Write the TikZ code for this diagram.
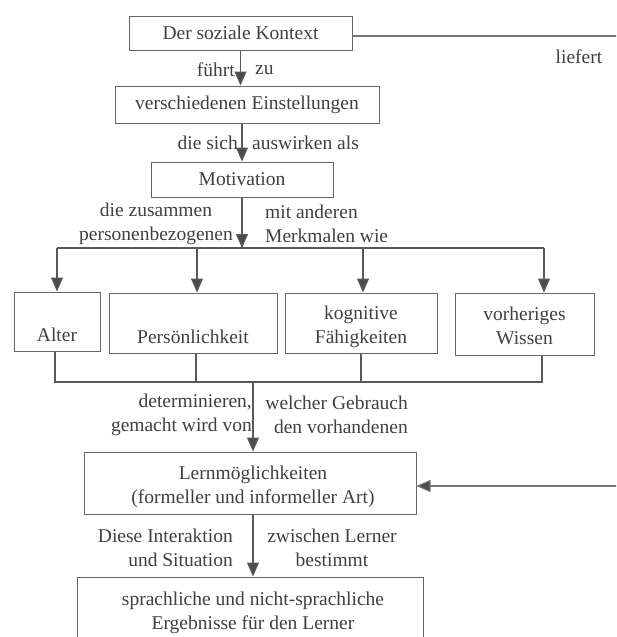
\documentclass[tikz,border=0pt]{standalone}
\usepackage{fontspec}
\setmainfont{Liberation Serif}
\usetikzlibrary{arrows.meta,calc}
\begin{document}
\begin{tikzpicture}[x=1pt,y=-1pt,
  box/.style={draw=black!60, line width=1pt, inner sep=0pt, align=center, text=black!75},
  lbl/.style={inner sep=0pt, text=black!75, font=\fontsize{19.5}{24}\selectfont},
  ln/.style={draw=black!65, line width=1.1pt},
  arr/.style={ln, arrows={-{Triangle[length=14pt,width=12pt,fill=black!70]}}},
  every node/.append style={font=\fontsize{19.5}{24}\selectfont}]
\useasboundingbox (0,0) rectangle (616,637);
\clip (0,0) rectangle (616,637);
\fill[white] (0,0) rectangle (616,637);

% boxes
\node[box, minimum width=223, minimum height=34] (kontext) at (240.5,33) {Der soziale Kontext};
\node[box, minimum width=264, minimum height=37] (einst) at (247,104.5) {verschiedenen Einstellungen};
\node[box, minimum width=182, minimum height=35] (motiv) at (242,179.5) {Motivation};
\node[box, minimum width=86, minimum height=59] (alter) at (57,321.5) {\strut\\Alter};
\node[box, minimum width=168, minimum height=60] (pers) at (193,323) {\strut\\Persönlichkeit};
\node[box, minimum width=152, minimum height=60,
  label={[lbl,align=center,yshift=-4pt]center:kognitive\\Fähigkeiten}] (kogn) at (361,323) {};
\node[box, minimum width=139, minimum height=62,
  label={[lbl,align=center,yshift=-2pt]center:vorheriges\\Wissen}] (wissen) at (524.5,324) {};
\node[box, minimum width=332, minimum height=62,
  label={[lbl,align=center,xshift=3pt,yshift=-4pt]center:Lernmöglichkeiten\\(formeller und informeller Art)}] (lern) at (250,483) {};
\node[box, minimum width=346, minimum height=86] (ergeb) at (250,620) {};
\node[lbl, align=center] (ergebtxt) at (253,613) {sprachliche und nicht-sprachliche\\Ergebnisse für den Lerner};

% connectors top
\draw[arr] (kontext.south) -- (kontext.south |- einst.north);
\draw[arr] (motiv.north |- einst.south) -- (motiv.north);
\coordinate (br) at (242,248);
\draw[arr] (motiv.south) -- (br);
\coordinate (hl) at (57,248);
\coordinate (hr) at (544,248);
\draw[ln] (hl) -- (hr);
\draw[arr] (hl) -- (alter.north);
\draw[arr] ([xshift=4pt]pers.north |- hl) -- ([xshift=4pt]pers.north);
\draw[arr] ([xshift=2pt]kogn.north |- hl) -- ([xshift=2pt]kogn.north);
\draw[arr] (hr) -- (hr |- wissen.north);

% connectors bottom row
\coordinate (bl) at (55,382);
\coordinate (brr) at (542,382);
\draw[ln] ([xshift=-2pt]alter.south) -- ([xshift=-2pt]alter.south |- bl) -- (brr) -- ([xshift=17.5pt]wissen.south);
\draw[ln] ([xshift=3pt]pers.south) -- ([xshift=3pt]pers.south |- bl);
\draw[ln] (kogn.south) -- (kogn.south |- bl);
\draw[arr] ([xshift=3pt]lern.north |- bl) -- ([xshift=3pt]lern.north);
\draw[arr] ([xshift=3pt]lern.south) -- ([xshift=3pt]lern.south |- ergeb.north);

% right loop
\draw[arr, draw=black!55] ([yshift=-3pt]kontext.east) -- ++(290,0) |- ([yshift=-3pt]lern.east);
\node[lbl] (liefert) at (579,57) {liefert};

% labels
\node[lbl, anchor=east] (fuehrt) at (235,70) {führt};
\node[lbl, anchor=west] (zu) at (255,70) {zu};
\node[lbl, anchor=east] (diesich) at (238,143) {die sich};
\node[lbl, anchor=west] (auswirken) at (252,143) {auswirken als};
\node[lbl, align=center] (zusammen) at (156,224) {die zusammen\\personenbezogenen};
\node[lbl, align=left, anchor=west] (anderen) at (265,224) {mit anderen\\Merkmalen wie};
\node[lbl, align=right, anchor=east] (determ) at (252,415) {determinieren,\\gemacht wird von};
\node[lbl, align=right, anchor=east] (gebrauch) at (408,415) {welcher Gebrauch\\den vorhandenen};
\node[lbl, align=right, anchor=east] (interakt) at (233,548) {Diese Interaktion\\und Situation};
\node[lbl, align=center] (zwischen) at (332,548) {zwischen Lerner\\bestimmt};
\end{tikzpicture}
\end{document}
